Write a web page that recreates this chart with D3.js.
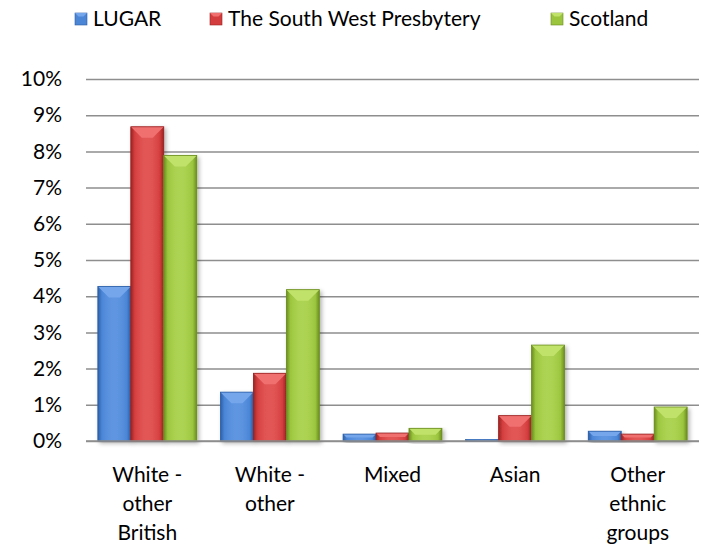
<!DOCTYPE html>
<html>
<head>
<meta charset="utf-8">
<script src="https://cdn.jsdelivr.net/npm/d3@7"></script>
<style>
  body { margin: 0; background: #fff; }
  svg text { font-family: Lato, "Open Sans", sans-serif; fill: #000; }
</style>
</head>
<body>
<div id="chart"></div>
<script>
const categories = [["White -", "other", "British"], ["White -", "other"], ["Mixed"], ["Asian"], ["Other", "ethnic", "groups"]]
const seriesNames = ['LUGAR', 'The South West Presbytery', 'Scotland']
const lugar = [4.27, 1.35, 0.19, 0.05, 0.27]
const southWest = [8.68, 1.87, 0.22, 0.70, 0.19]
const scotland = [7.89, 4.18, 0.35, 2.65, 0.94]
const yTicks = [0, 1, 2, 3, 4, 5, 6, 7, 8, 9, 10]

const colors = [
  { base: '#4a85d6', light: '#74a6ec', dark: '#2d5fa6' },
  { base: '#d43d3d', light: '#f07070', dark: '#992424' },
  { base: '#9bc53d', light: '#c0e26a', dark: '#6b8c21' }
]

const width = 701, height = 548
const margin = { top: 79, right: 2, bottom: 107, left: 86 }
const innerW = width - margin.left - margin.right
const innerH = height - margin.top - margin.bottom

const svg = d3.select('#chart').append('svg')
  .attr('width', width)
  .attr('height', height)

const defs = svg.append('defs')
colors.forEach((c, i) => {
  const g = defs.append('linearGradient').attr('id', 'grad' + i)
    .attr('x1', 0).attr('x2', 1).attr('y1', 0).attr('y2', 0)
  g.append('stop').attr('offset', '0%').attr('stop-color', c.dark)
  g.append('stop').attr('offset', '12%').attr('stop-color', c.base)
  g.append('stop').attr('offset', '50%').attr('stop-color', c.light).attr('stop-opacity', 0.5)
  g.append('stop').attr('offset', '88%').attr('stop-color', c.base)
  g.append('stop').attr('offset', '100%').attr('stop-color', c.dark)
})
const shadow = defs.append('filter').attr('id', 'shadow')
  .attr('x', '-20%').attr('y', '-10%').attr('width', '150%').attr('height', '130%')
shadow.append('feDropShadow').attr('dx', 2).attr('dy', 2).attr('stdDeviation', 2)
  .attr('flood-color', '#000').attr('flood-opacity', 0.3)

const g = svg.append('g').attr('transform', `translate(${margin.left},${margin.top})`)

// scales
const x0 = d3.scaleBand().domain(d3.range(categories.length)).range([0, innerW])
const x1 = d3.scaleBand().domain(d3.range(seriesNames.length)).range([0, x0.bandwidth()])
  .paddingInner(0).paddingOuter(0.36)
const y = d3.scaleLinear().domain([0, 10]).range([innerH, 0])

// gridlines
const yAxis = d3.axisLeft(y).tickValues(yTicks).tickSize(-innerW).tickFormat(d => d + '%').tickPadding(24)
const yg = g.append('g').call(yAxis)
yg.select('.domain').remove()
yg.selectAll('.tick line').attr('stroke', '#8e8e8e').attr('stroke-width', 1.5)
yg.selectAll('.tick text').attr('font-size', 21)

// bars
const data = [lugar, southWest, scotland]
const groups = g.selectAll('.grp').data(categories).join('g')
  .attr('class', 'grp')
  .attr('transform', (d, i) => `translate(${x0(i)},0)`)

groups.each(function (cat, ci) {
  const grp = d3.select(this)
  data.forEach((series, si) => {
    const v = series[ci]
    const bx = x1(si), bw = x1.bandwidth()
    const by = y(v), bh = y(0) - y(v)
    const bar = grp.append('g').attr('filter', 'url(#shadow)')
    bar.append('rect').attr('x', bx).attr('y', by).attr('width', bw).attr('height', bh)
      .attr('fill', colors[si].base)
    bar.append('rect').attr('x', bx).attr('y', by).attr('width', bw).attr('height', bh)
      .attr('fill', `url(#grad${si})`)
    const b = Math.min(11, bh / 2)
    bar.append('polygon')
      .attr('points', `${bx},${by} ${bx + bw},${by} ${bx + bw - b},${by + b} ${bx + b},${by + b}`)
      .attr('fill', colors[si].light)
    bar.append('rect').attr('x', bx).attr('y', by).attr('width', bw).attr('height', bh)
      .attr('fill', 'none').attr('stroke', colors[si].dark).attr('stroke-width', 0.8)
  })
})

// baseline
g.append('line').attr('x1', 0).attr('x2', innerW).attr('y1', y(0)).attr('y2', y(0))
  .attr('stroke', '#8e8e8e').attr('stroke-width', 1.5)

// category labels
const xl = g.selectAll('.xl').data(categories).join('text')
  .attr('class', 'xl')
  .attr('text-anchor', 'middle')
  .attr('font-size', 21)
  .attr('transform', (d, i) => `translate(${x0(i) + x0.bandwidth() / 2},${innerH + 41})`)
xl.selectAll('tspan').data(d => d).join('tspan')
  .attr('x', 0)
  .attr('y', (d, i) => i * 29)
  .text(d => d)

// legend
const legendX = [75, 210, 551]
const legend = svg.append('g').selectAll('g').data(seriesNames).join('g')
  .attr('transform', (d, i) => `translate(${legendX[i]},13)`)
legend.append('rect').attr('width', 12).attr('height', 12)
  .attr('fill', (d, i) => colors[i].base).attr('stroke', (d, i) => colors[i].dark).attr('stroke-width', 0.6)
legend.append('polygon').attr('points', '0,0 12,0 8.5,3.5 3.5,3.5')
  .attr('fill', (d, i) => colors[i].light)
legend.append('text').attr('x', 18).attr('y', 13).attr('font-size', 21).text(d => d)
</script>
</body>
</html>
